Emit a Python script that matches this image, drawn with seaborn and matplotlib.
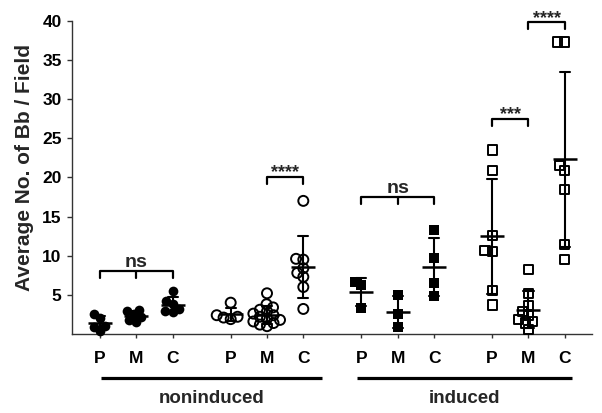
import numpy as np
import pandas as pd
import matplotlib
matplotlib.use("Agg")
import matplotlib.pyplot as plt
import seaborn as sns

# ---------------- data ----------------
categories = ["P", "M", "C"]
conditions = ["noninduced", "induced"]
ytick_values = [5, 10, 15, 20, 25, 30, 35, 40]

# noninduced, set 1 (filled circles)
non1_P = [2.6, 2.1, 1.0, 0.4, 0.9]
non1_M = [3.1, 2.9, 2.5, 2.2, 1.8, 1.5]
non1_C = [5.5, 4.2, 3.8, 3.2, 3.0, 2.8]
# noninduced, set 2 (open circles)
non2_P = [4.0, 2.4, 2.2, 2.1, 1.9]
non2_M = [5.2, 3.8, 3.4, 3.1, 2.9, 2.6, 2.4, 2.2, 2.0, 1.8, 1.6, 1.4, 1.2, 1.0]
non2_C = [17.0, 9.6, 9.5, 8.4, 7.8, 7.3, 6.0, 3.2]
# induced, set 1 (filled squares)
ind1_P = [6.6, 6.2, 3.3]
ind1_M = [5.0, 2.6, 0.9]
ind1_C = [13.3, 9.7, 6.5, 4.9]
# induced, set 2 (open squares)
ind2_P = [23.5, 20.9, 12.6, 10.7, 10.5, 5.6, 3.7]
ind2_M = [8.2, 5.2, 3.6, 2.9, 2.4, 1.8, 1.6, 1.4, 0.6]
ind2_C = [37.3, 37.3, 21.5, 20.9, 18.5, 11.4, 9.5]

# significance annotations
sig_set = [0, 1, 2, 3, 3]
sig_from = ["P", "M", "P", "P", "M"]
sig_to = ["C", "C", "C", "M", "C"]
sig_height = [8.1, 20.1, 17.45, 27.5, 39.8]
sig_text = ["ns", "****", "ns", "***", "****"]

# ---------------- styling / layout ----------------
sns.set_style("ticks")
plt.rcParams["font.family"] = ["Liberation Sans", "DejaVu Sans"]
plt.rcParams["font.weight"] = "bold"

sets = [
    (non1_P, non1_M, non1_C),
    (non2_P, non2_M, non2_C),
    (ind1_P, ind1_M, ind1_C),
    (ind2_P, ind2_M, ind2_C),
]
set_condition = [0, 0, 1, 1]
set_marker = ["o", "o", "s", "s"]
set_filled = [True, False, True, False]
set_size = [7.0, 7.2, 7.0, 6.6]      # displayed marker size (pt)
swarm_size = 5.0                      # size used for the swarm layout (allows overlap)
group_step = 3.6

rows = []
for si, vals in enumerate(sets):
    for ci, (cat, v) in enumerate(zip(categories, vals)):
        for val in v:
            rows.append(dict(set=si, condition=conditions[set_condition[si]],
                             cat=cat, pos=si * group_step + ci, value=val))
df = pd.DataFrame(rows)

fig = plt.figure(figsize=(6.02, 4.13), dpi=100)
ax = fig.add_axes([72 / 602, 1 - 334 / 413, 520 / 602, 332.8 / 413])

swarm_colls = []
for si in range(len(sets)):
    sub = df[df["set"] == si]
    n_before = len(ax.collections)
    sns.swarmplot(data=sub, x="pos", y="value", native_scale=True, ax=ax,
                  color="black", marker=set_marker[si], size=swarm_size,
                  edgecolor="black", linewidth=0, warn_thresh=1.0)
    for coll in ax.collections[n_before:]:
        swarm_colls.append((si, coll))

n_lines = len(ax.lines)
sns.pointplot(data=df, x="pos", y="value", native_scale=True, ax=ax,
              errorbar="sd", color="black", linestyle="none",
              markers="_", markersize=17, markeredgewidth=1.8,
              capsize=0.28, err_kws={"linewidth": 1.5})
for ln in ax.lines[n_lines:]:
    ln.set_zorder(4)
    ln.set_clip_on(False)

# axes
ax.set_xlim(-0.77, 13.55)
ax.set_ylim(0, 42.5)
positions = [si * group_step + ci for si in range(len(sets)) for ci in range(3)]
ax.set_xticks(positions)
ax.set_xticklabels(categories * len(sets), fontsize=12.5, fontweight="bold")
ax.set_yticks(ytick_values)
ax.set_yticklabels([str(v) for v in ytick_values], fontsize=12.5, fontweight="bold")
ax.spines["left"].set_bounds(0, 40)
for s in ["top", "right"]:
    ax.spines[s].set_visible(False)
for s in ["left", "bottom"]:
    ax.spines[s].set_linewidth(1.0)
    ax.spines[s].set_color("#333333")
ax.tick_params(axis="x", length=3, width=1.0, pad=9, colors="#333333", labelcolor="black")
ax.tick_params(axis="y", length=3.5, width=1.0, pad=4, colors="#333333", labelcolor="black")
ax.set_xlabel("")
ax.set_ylabel("Average No. of Bb / Field", fontsize=15, fontweight="bold", labelpad=6)

# lay out the swarms once with the small size, then freeze and enlarge markers
fig.canvas.draw()
for si, coll in swarm_colls:
    if "draw" in coll.__dict__:
        del coll.draw
    coll.set_sizes([set_size[si] ** 2])
    coll.set_clip_on(False)
    coll.set_zorder(3)
    if set_filled[si]:
        coll.set_linewidth(0)
    else:
        coll.set_facecolor("none")
        coll.set_edgecolor("black")
        coll.set_linewidth(1.4)

# significance brackets
drop = 0.9
for si, a, b, h, t in zip(sig_set, sig_from, sig_to, sig_height, sig_text):
    x0 = si * group_step + categories.index(a)
    x1 = si * group_step + categories.index(b)
    ax.plot([x0, x0, x1, x1], [h - drop, h, h, h - drop], color="black",
            lw=1.6, clip_on=False, zorder=5)
    if x1 - x0 > 1:
        xm = (x0 + x1) / 2
        ax.plot([xm, xm], [h, h - drop], color="black", lw=1.6, clip_on=False)
    if t == "ns":
        ax.text((x0 + x1) / 2, h + 0.5, t, ha="center", va="baseline",
                fontsize=14, fontweight="bold")
    else:
        ax.text((x0 + x1) / 2, h - 0.1, t, ha="center", va="baseline",
                fontsize=13, fontweight="bold")

# condition labels with underline
trans = ax.get_xaxis_transform()
cond_extent = [(0.03, 6.12), (7.07, 13.0)]
for cond, (xa, xb) in zip(conditions, cond_extent):
    ax.plot([xa, xb], [-0.132, -0.132], color="black", lw=2.3,
            transform=trans, clip_on=False, solid_capstyle="butt")
    ax.text((xa + xb) / 2, -0.208, cond, transform=trans, ha="center",
            va="baseline", fontsize=13.5, fontweight="bold")

fig.savefig("out.png", dpi=100)
